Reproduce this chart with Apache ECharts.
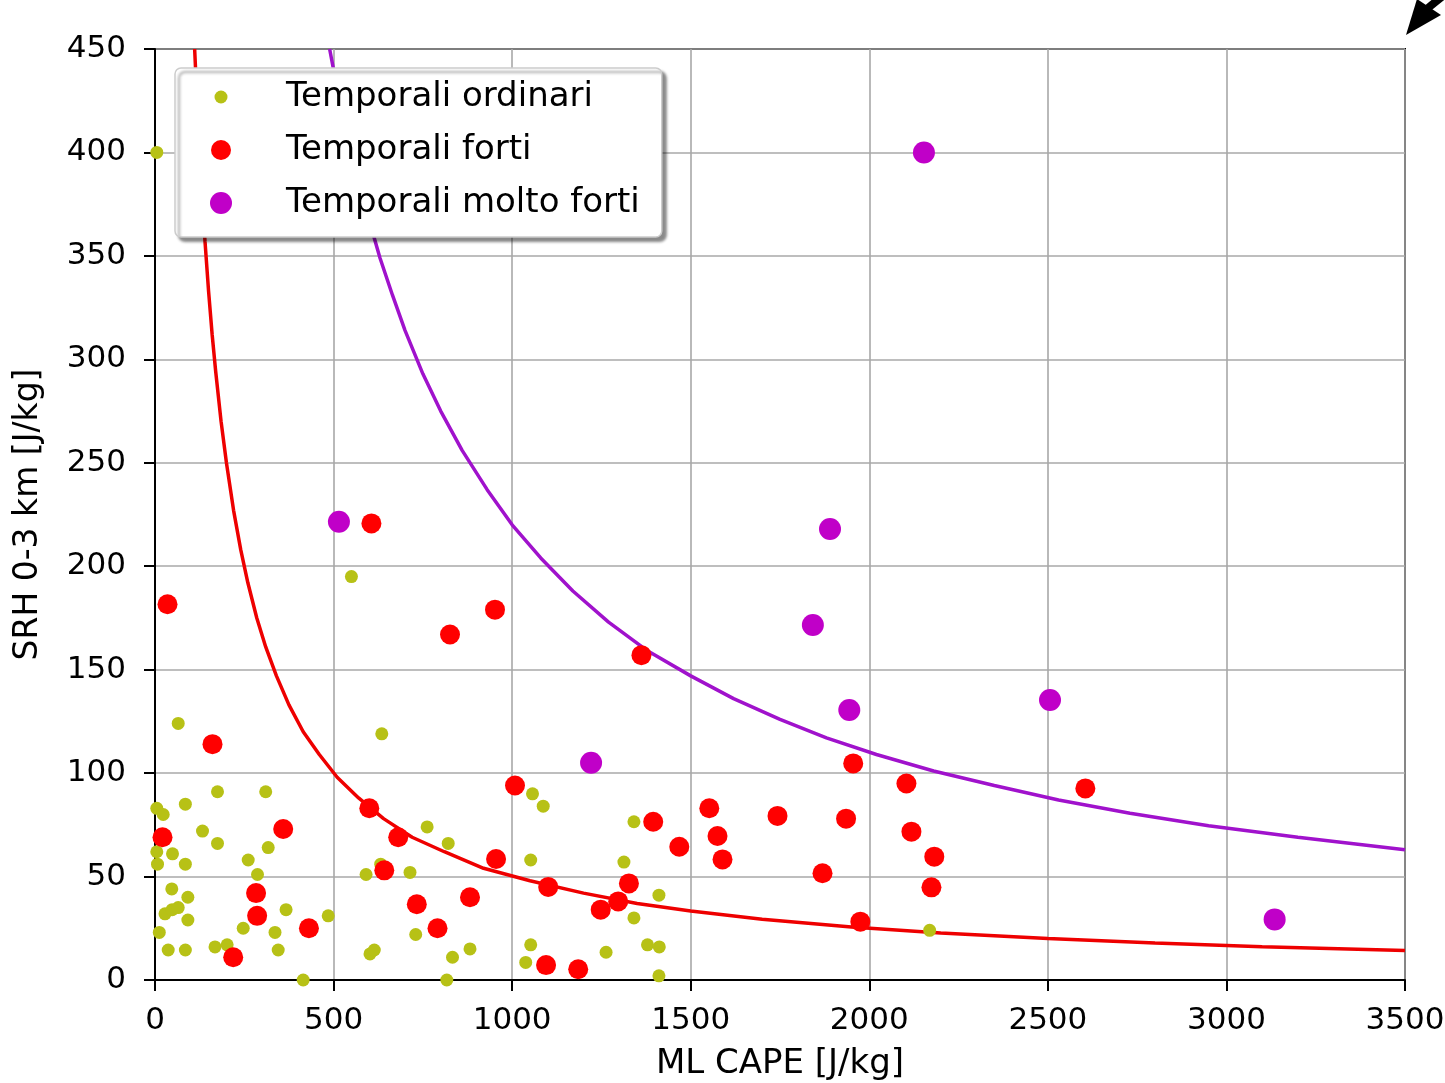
<!DOCTYPE html>
<html>
<head>
<meta charset="utf-8">
<script src="https://cdn.jsdelivr.net/npm/echarts@6/dist/echarts.min.js"></script>
<style>
html,body{margin:0;padding:0;background:#fff;}
#chart{width:1445px;height:1083px;}
</style>
</head>
<body>
<div id="chart"></div>
<script>
// ---- data ----
const seriesNames = ['Temporali ordinari', 'Temporali forti', 'Temporali molto forti'];
const xTicks = [0, 500, 1000, 1500, 2000, 2500, 3000, 3500];
const yTicks = [0, 50, 100, 150, 200, 250, 300, 350, 400, 450];

const ordinari = [
  [5,400],[550,195],[635,119],[65,124],[175,91],[310,91],[85,85],[5,83],[23,80],
  [133,72],[175,66],[317,64],[49,61],[85,56],[5,62],[7,56],[261,58],[287,51],
  [762,74],[821,66],[591,51],[632,56],[714,52],[47,44],[92,40],[28,32],[48,34],
  [65,35],[92,29],[367,34],[485,31],[247,25],[336,23],[12,23],[37,14.5],[85,14.5],
  [168,16],[202,17],[345,14.5],[602,12.6],[614,14.5],[730,22],[833,11],[882,15],
  [817,0],[415,0],[1057,90],[1087,84],[1341,76.5],[1052,58],[1313,57],[1411,41],
  [1341,30],[1052,17],[1038,8.5],[1263,13.4],[1379,17],[1412,16],[1411,2],[2169,24]
];
const forti = [
  [35,181.6],[161,114],[21,69],[359,73],[283,42],[286,31],[431,25],[219,11],
  [606,220.7],[600,83],[681,69],[642,53],[733,36.6],[791,25],[882,40],[955,58.5],
  [826,167],[952,179],[1362,157],[1008,94],[1101,45],[1327,46.7],[1297,38],[1248,34],
  [1395,76.5],[1468,64.4],[1552,83],[1575,69.6],[1589,58.3],[1743,79.3],[1935,78],
  [1955,104.7],[1869,51.6],[1975,28.2],[1095,7.2],[1185,5.2],[2104,95],[2605,92.6],
  [2118,71.7],[2182,59.6],[2174,44.8]
];
const moltoForti = [
  [2153,400],[515,221.5],[1890,218],[1842,171.6],[1221,105],[1944,130.5],[2506,135.3],[3135,29.3]
];
// threshold curves: points
const curveRed = [
  [111,450],[115,435],[120,417],[125,400],[130,385],[140,357],[150,333],[160,312],
  [170,294],[185,270],[200,250],[220,227],[240,208],[260,192],[285,175],[310,161],
  [340,147],[375,133],[415,120],[460,109],[510,98],[570,88],[640,78],[720,69],
  [810,62],[920,54],[1050,48],[1200,42],[1350,37],[1500,33.3],[1700,29.4],[1950,25.6],
  [2200,22.7],[2500,20],[2800,17.9],[3100,16.1],[3500,14.3]
];
const curvePurple = [
  [489,450],[500,440],[515,427],[530,415],[550,400],[575,383],[600,367],[630,349],
  [665,331],[700,314],[750,293],[800,275],[860,256],[930,237],[1000,220],[1080,204],
  [1170,188],[1270,173],[1380,159],[1500,147],[1620,136],[1750,126],[1880,117],
  [2020,109],[2180,101],[2350,94],[2530,87],[2730,80.6],[2950,74.6],[3200,69],[3500,63]
];

const colGreen = '#b7c116';
const colRed = '#ff0000';
const colPurple = '#c000c8';
const FONT = 'DejaVu Sans';

function iconPath(r) {
  const c = 11;
  return 'path://M0,0 M22,22 M' + (c - r) + ',' + c +
    ' A' + r + ',' + r + ' 0 1,1 ' + (c + r) + ',' + c +
    ' A' + r + ',' + r + ' 0 1,1 ' + (c - r) + ',' + c + ' Z';
}

const chart = echarts.init(document.getElementById('chart'), null, {renderer: 'canvas'});
chart.setOption({
  animation: false,
  backgroundColor: '#fff',
  textStyle: {fontFamily: FONT},
  grid: {
    left: 155, top: 49, width: 1250, height: 931,
    outerBoundsMode: 'none', containLabel: false,
    show: true, borderColor: '#000', borderWidth: 2, backgroundColor: 'transparent'
  },
  legend: {
    orient: 'vertical', left: 175, top: 68,
    padding: [10, 22, 15, 35],
    itemWidth: 22, itemHeight: 22, itemGap: 15,
    backgroundColor: '#fff',
    borderColor: '#cccccc', borderWidth: 1.5, borderRadius: 6,
    shadowColor: 'rgba(0,0,0,0.45)', shadowBlur: 3, shadowOffsetX: 4, shadowOffsetY: 4,
    textStyle: {fontFamily: FONT, fontSize: 34, color: '#000', lineHeight: 38, padding: [0, 0, 0, 49]},
    data: [
      {name: seriesNames[0], icon: iconPath(6.5)},
      {name: seriesNames[1], icon: iconPath(10)},
      {name: seriesNames[2], icon: iconPath(11)}
    ]
  },
  xAxis: {
    type: 'value', min: xTicks[0], max: xTicks[xTicks.length - 1], interval: 500,
    name: 'ML CAPE [J/kg]', nameLocation: 'middle', nameGap: 67,
    nameTextStyle: {fontFamily: FONT, fontSize: 34, color: '#000'},
    axisLine: {show: true, onZero: false, lineStyle: {color: '#000', width: 2}},
    axisTick: {show: true, length: 11, lineStyle: {color: '#000', width: 2}},
    axisLabel: {fontFamily: FONT, fontSize: 31, color: '#000', margin: 25, formatter: v => String(v)},
    splitLine: {show: true, lineStyle: {color: '#a8a8a8', width: 1.6}}
  },
  yAxis: {
    type: 'value', min: yTicks[0], max: yTicks[yTicks.length - 1], interval: 50,
    name: 'SRH 0-3 km [J/kg]', nameLocation: 'middle', nameGap: 110,
    nameTextStyle: {fontFamily: FONT, fontSize: 33, color: '#000'},
    axisLine: {show: true, onZero: false, lineStyle: {color: '#000', width: 2}},
    axisTick: {show: true, length: 11, lineStyle: {color: '#000', width: 2}},
    axisLabel: {fontFamily: FONT, fontSize: 31, color: '#000', margin: 29, formatter: v => String(v)},
    splitLine: {show: true, lineStyle: {color: '#a8a8a8', width: 1.6}}
  },
  series: [
    {
      name: 'curveRed', type: 'line', data: curveRed, smooth: false,
      symbol: 'none', lineStyle: {color: '#ee0000', width: 3.5}, z: 1, silent: true, clip: true
    },
    {
      name: 'curvePurple', type: 'line', data: curvePurple, smooth: false,
      symbol: 'none', lineStyle: {color: '#a012cc', width: 3.5}, z: 1, silent: true, clip: true
    },
    {
      name: seriesNames[0], type: 'scatter', data: ordinari, symbolSize: 13,
      itemStyle: {color: colGreen, opacity: 1}, z: 2
    },
    {
      name: seriesNames[1], type: 'scatter', data: forti, symbolSize: 20,
      itemStyle: {color: colRed, opacity: 1}, z: 3
    },
    {
      name: seriesNames[2], type: 'scatter', data: moltoForti, symbolSize: 22,
      itemStyle: {color: colPurple, opacity: 1}, z: 4
    }
  ],
  graphic: [
    {type: 'polygon', shape: {points: [[1406, 35], [1417, -1], [1441, 15]]}, style: {fill: '#000'}, z: 100},
    {type: 'line', shape: {x1: 1428, y1: 8, x2: 1455, y2: -14}, style: {stroke: '#000', lineWidth: 8}, z: 100}
  ]
});
</script>
</body>
</html>
